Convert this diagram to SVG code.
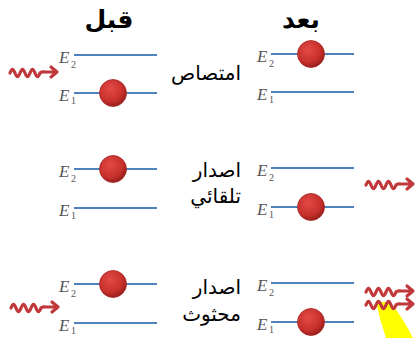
<svg xmlns="http://www.w3.org/2000/svg" xmlns:xlink="http://www.w3.org/1999/xlink" width="416" height="338" viewBox="0 0 416 338">
<defs>
<radialGradient id="ball" cx="0.4" cy="0.35" r="0.65">
<stop offset="0" stop-color="#e24a47"/>
<stop offset="0.7" stop-color="#c8302c"/>
<stop offset="1" stop-color="#9a1f1c"/>
</radialGradient>
<filter id="soft" x="-20%" y="-50%" width="140%" height="200%">
<feGaussianBlur stdDeviation="0.6"/>
</filter>
<g id="wave">
<path d="M0,0 c2,-5 3,-5 5,0 s3,5 5,0 s3,-5 5,0 s3,5 5,0 s3,-5 5,0 s3,5 5,0 c2,-2 3,-1 5,-1 L47,-1 M41,-6 L47,-1 L41,4" fill="none" stroke="#c0393a" stroke-width="3.2" stroke-linecap="round" stroke-linejoin="round" filter="url(#soft)"/>
</g>
<style>
.lvl{stroke:#4f81bd;stroke-width:2.2}
.e{font-family:"Liberation Serif",serif;font-style:italic;font-size:17px;fill:#555}
.sub{font-family:"Liberation Serif",serif;font-size:10px;fill:#555}
.ar{font-family:"DejaVu Sans","Noto Sans",sans-serif;font-size:20px;fill:#000}
.hd{font-family:"DejaVu Sans","Noto Sans",sans-serif;font-size:25px;font-weight:bold;fill:#000}
.el{fill:url(#ball);stroke:#a52a27;stroke-width:0.8}
</style>
</defs>

<g id="headers">
<text class="hd" x="109" y="28" text-anchor="middle">قبل</text>
<text class="hd" x="301" y="28" text-anchor="middle">بعد</text>
</g>

<g id="labels">
<text class="ar" x="241" y="80" text-anchor="end">امتصاص</text>
<text class="ar" x="241" y="177" text-anchor="end">اصدار</text>
<text class="ar" x="241" y="203" text-anchor="end">تلقائي</text>
<text class="ar" x="241" y="294" text-anchor="end">اصدار</text>
<text class="ar" x="241" y="321" text-anchor="end">محثوث</text>
</g>

<g id="absorption-before">
<line class="lvl" x1="74" y1="55" x2="157" y2="55"/>
<line class="lvl" x1="74" y1="93" x2="157" y2="93"/>
<text class="e" x="59" y="63">E</text><text class="sub" x="71" y="68">2</text>
<text class="e" x="59" y="101">E</text><text class="sub" x="71" y="104">1</text>
<circle class="el" cx="113" cy="93" r="13.5"/>
</g>
<g id="absorption-after">
<line class="lvl" x1="271" y1="54" x2="354" y2="54"/>
<line class="lvl" x1="271" y1="92" x2="354" y2="92"/>
<text class="e" x="257" y="62">E</text><text class="sub" x="269" y="67">2</text>
<text class="e" x="257" y="100">E</text><text class="sub" x="269" y="103">1</text>
<circle class="el" cx="311" cy="54" r="13.5"/>
</g>

<g id="spontaneous-before">
<line class="lvl" x1="74" y1="169" x2="157" y2="169"/>
<line class="lvl" x1="74" y1="208" x2="157" y2="208"/>
<text class="e" x="59" y="177">E</text><text class="sub" x="71" y="182">2</text>
<text class="e" x="59" y="216">E</text><text class="sub" x="71" y="219">1</text>
<circle class="el" cx="113" cy="169" r="13.5"/>
</g>
<g id="spontaneous-after">
<line class="lvl" x1="271" y1="168" x2="354" y2="168"/>
<line class="lvl" x1="271" y1="207" x2="354" y2="207"/>
<text class="e" x="257" y="176">E</text><text class="sub" x="269" y="181">2</text>
<text class="e" x="257" y="215">E</text><text class="sub" x="269" y="218">1</text>
<circle class="el" cx="311" cy="207" r="13.5"/>
</g>

<g id="stimulated-before">
<line class="lvl" x1="74" y1="284" x2="157" y2="284"/>
<line class="lvl" x1="74" y1="323" x2="157" y2="323"/>
<text class="e" x="59" y="292">E</text><text class="sub" x="71" y="297">2</text>
<text class="e" x="59" y="331">E</text><text class="sub" x="71" y="334">1</text>
<circle class="el" cx="113" cy="284" r="13.5"/>
</g>
<g id="stimulated-after">
<path d="M376,302 Q380,321 386,338 L413,338 Q402,316 390,302 Z" fill="#ffff00"/>
<line class="lvl" x1="271" y1="283" x2="354" y2="283"/>
<line class="lvl" x1="271" y1="322" x2="354" y2="322"/>
<text class="e" x="257" y="291">E</text><text class="sub" x="269" y="296">2</text>
<text class="e" x="257" y="330">E</text><text class="sub" x="269" y="333">1</text>
<circle class="el" cx="311" cy="322" r="13.5"/>
</g>

<g id="connectors">
<use xlink:href="#wave" transform="translate(10,73)"/>
<use xlink:href="#wave" transform="translate(366,185)"/>
<use xlink:href="#wave" transform="translate(11,308)"/>
<use xlink:href="#wave" transform="translate(366,292)"/>
<use xlink:href="#wave" transform="translate(366,305)"/>
</g>
</svg>
